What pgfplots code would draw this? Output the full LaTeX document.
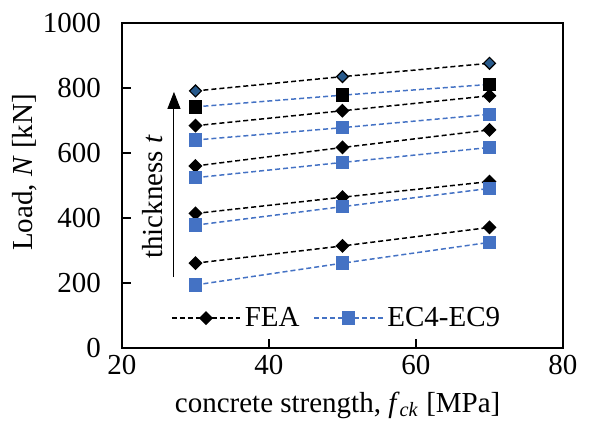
\documentclass[border=0pt]{standalone}
\usepackage{fontspec}
\setmainfont{Liberation Serif}
\usepackage{pgfplots}
\pgfplotsset{compat=1.18}
\usetikzlibrary{arrows.meta}

\definecolor{ecblue}{RGB}{68,114,196}
\definecolor{darkfill}{RGB}{40,90,140}

\begin{document}
\begin{tikzpicture}[font=\fontsize{14.5}{17}\selectfont]
\begin{axis}[
    scale only axis,
    width=220.5pt,
    height=162.5pt,
    xmin=20, xmax=80,
    ymin=0, ymax=1000,
    xtick={20,40,60,80},
    ytick={0,200,...,1000},
    tick pos=left,
    tick align=inside,
    major tick length=4.5pt,
    axis line style={line width=1pt},
    every tick/.style={black, line width=0.8pt},
    /pgf/number format/assume math mode=true,
    /pgf/number format/1000 sep={},
    yticklabel style={xshift=-7pt},
    every axis y label/.style={at={(rel axis cs:0,0.54)}, xshift=-48.5pt, rotate=90, anchor=center},
    every axis x label/.style={at={(rel axis cs:0.489,0)}, yshift=-28.5pt, anchor=center},
    xlabel={concrete strength, \textit{f}\textsubscript{\textit{ck}} [MPa]},
    ylabel={Load, \textit{N} [kN]},
    legend style={draw=none, fill=none, at={(rel axis cs:0.489,0.092)}, anchor=center,
        legend columns=2, /tikz/every even column/.append style={column sep=5pt},
        inner sep=0pt},
    legend image code/.code={\draw[mark repeat=2, mark phase=2, #1]
        plot coordinates {(0cm,0cm) (0.6cm,0cm) (1.2cm,0cm)};},
    fea/.style={black, line width=0.75pt, dash pattern=on 2.5pt off 1.5pt,
        mark=square*, mark size=2.1pt, mark options={solid, rotate=45, fill=black}},
    ec/.style={ecblue, line width=0.75pt, dash pattern=on 2.5pt off 1.5pt,
        mark=square*, mark size=3pt, mark options={solid, fill=ecblue}},
]
% legend series
\addplot[fea] coordinates {(30,684) (50,730) (70,776)};
\addlegendentry{FEA}
\addplot[ec] coordinates {(30,640) (50,678) (70,719)};
\addlegendentry{EC4-EC9}
% remaining thicknesses
\addplot[fea, mark options={solid, rotate=45, draw=black, fill=darkfill, line width=0.6pt}, forget plot]
    coordinates {(30,791) (50,835) (70,876)};
\addplot[ec, mark options={solid, draw=black, fill=black}, forget plot]
    coordinates {(30,742) (50,778) (70,811)};
\addplot[fea, forget plot] coordinates {(30,560) (50,617) (70,671)};
\addplot[ec, forget plot] coordinates {(30,524) (50,571) (70,617)};
\addplot[fea, forget plot] coordinates {(30,414) (50,464) (70,512)};
\addplot[ec, forget plot] coordinates {(30,378) (50,435) (70,491)};
\addplot[fea, forget plot] coordinates {(30,261) (50,314) (70,371)};
\addplot[ec, forget plot] coordinates {(30,194) (50,261) (70,325)};

\draw[-{Triangle[width=6.5pt,length=8.5pt]}, line width=0.5pt]
    (axis cs:27.07,218) -- (axis cs:27.07,788);
\node[rotate=90] at (axis cs:24.1,465) {thickness \textit{t}};
\end{axis}
\pgfresetboundingbox
\path[use as bounding box] (-61pt,-40pt) rectangle (233.5pt,174pt);
\end{tikzpicture}
\end{document}
